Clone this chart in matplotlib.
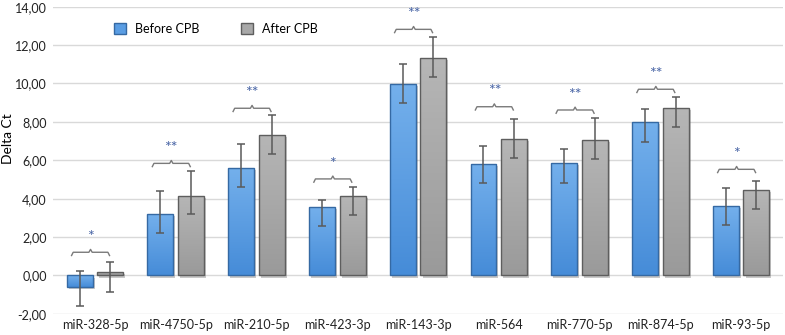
import numpy as np
import matplotlib
matplotlib.use("Agg")
import matplotlib.pyplot as plt
from matplotlib.colors import LinearSegmentedColormap
from matplotlib.patches import Patch
from matplotlib.ticker import FuncFormatter, MultipleLocator
import matplotlib.patheffects as pe

plt.rcParams["font.family"] = ["Lato", "DejaVu Sans"]

mirnas = ["miR-328-5p", "miR-4750-5p", "miR-210-5p", "miR-423-3p", "miR-143-3p",
          "miR-564", "miR-770-5p", "miR-874-5p", "miR-93-5p"]

before = [-0.58, 3.22, 5.58, 3.57, 9.97, 5.81, 5.84, 8.01, 3.64]
before_hi = [0.23, 4.38, 6.86, 3.92, 11.03, 6.74, 6.60, 8.67, 4.54]
before_lo = [-1.59, 2.23, 4.59, 2.56, 8.97, 4.80, 4.83, 6.97, 2.63]

after = [0.17, 4.16, 7.32, 4.12, 11.33, 7.09, 7.04, 8.74, 4.45]
after_hi = [0.72, 5.44, 8.34, 4.59, 12.41, 8.15, 8.19, 9.28, 4.92]
after_lo = [-0.84, 3.19, 6.31, 3.13, 10.33, 6.10, 6.05, 7.72, 3.45]

signif = ["*", "**", "**", "*", "**", "**", "**", "**", "*"]
bracket_y = [1.21, 5.84, 8.71, 5.03, 12.82, 8.79, 8.62, 9.70, 5.53]

fig = plt.figure(figsize=(7.85, 3.35), dpi=100)
ax = fig.add_axes([0.0675, 0.063, 0.93, 0.917])

x = np.arange(len(mirnas))
w = 0.32
off = 0.19

blue_cmap = LinearSegmentedColormap.from_list("b", ["#468cd8", "#74b0ec"])
gray_cmap = LinearSegmentedColormap.from_list("g", ["#9a9a9a", "#b6b6b6"])
grad = np.linspace(0, 1, 64).reshape(-1, 1)
shadow = [pe.SimplePatchShadow(offset=(1.5, -1.5), alpha=0.3)]


def draw_bars(xpos, vals, lo, hi, cmap, edge):
    # shadow layer underneath
    under = ax.bar(xpos, vals, w, color="white", linewidth=0, zorder=2.5)
    for b in under:
        b.set_path_effects(shadow)
    bars = ax.bar(xpos, vals, w, facecolor="none", edgecolor=edge, linewidth=1.0,
                  zorder=4)
    for b in bars:
        x0, y0 = b.get_x(), b.get_y()
        x1, y1 = x0 + b.get_width(), y0 + b.get_height()
        ylo, yhi = min(y0, y1), max(y0, y1)
        im = ax.imshow(grad, extent=[x0, x1, ylo, yhi], cmap=cmap, origin="lower",
                       aspect="auto", zorder=3)
        im.set_clip_path(b)
    vals = np.array(vals)
    yerr = [vals - np.array(lo), np.array(hi) - vals]
    ax.errorbar(xpos, vals, yerr=yerr, fmt="none", ecolor="#5a5a5a", elinewidth=1.1,
                capsize=3, capthick=1.1, zorder=5)


draw_bars(x - off, before, before_lo, before_hi, blue_cmap, "#3569a3")
draw_bars(x + off, after, after_lo, after_hi, gray_cmap, "#5e5e5e")

# significance brackets
for i, (s, yb) in enumerate(zip(signif, bracket_y)):
    xl, xr = i - 0.29, i + 0.18
    xc = (xl + xr) / 2
    ax.plot([xl, xl + 0.02, xc - 0.02, xc, xc + 0.02, xr - 0.02, xr],
            [yb - 0.17, yb, yb, yb + 0.15, yb, yb, yb - 0.17],
            color="#7a7a7a", lw=1.0, zorder=5, solid_joinstyle="round")
    ax.text(xc, yb + 0.8, s, ha="center", va="center", fontsize=11.5,
            color="#4a66a6", zorder=6)

ax.set_xlim(-0.52, len(mirnas) - 0.48)
ax.set_ylim(-2, 14)
ax.yaxis.set_major_locator(MultipleLocator(2))
ax.yaxis.set_major_formatter(FuncFormatter(lambda v, p: f"{v:.2f}".replace(".", ",")))
ax.set_xticks(x)
ax.set_xticklabels(mirnas, fontsize=9)
ax.tick_params(axis="both", length=0, labelsize=9, colors="#222222")
ax.tick_params(axis="y", pad=4.5)
ax.tick_params(axis="x", pad=3.5)
ax.set_ylabel("Delta Ct", fontsize=10, va="center", ha="center")
ax.yaxis.set_label_coords(-0.061, 0.57)
ax.grid(axis="y", color="#d9d9d9", lw=1.0, zorder=0)
ax.set_axisbelow(True)
for sp in ax.spines.values():
    sp.set_visible(False)

handles = [Patch(facecolor="#5a9de3", edgecolor="#3569a3", label="Before CPB"),
           Patch(facecolor="#a8a8a8", edgecolor="#5e5e5e", label="After CPB")]
ax.legend(handles=handles, loc="upper left", bbox_to_anchor=(0.068, 0.985), ncol=2,
          frameon=False, fontsize=9, handlelength=1.0, handleheight=1.0,
          columnspacing=3.3, handletextpad=0.7)

fig.savefig("out.png", dpi=100)
